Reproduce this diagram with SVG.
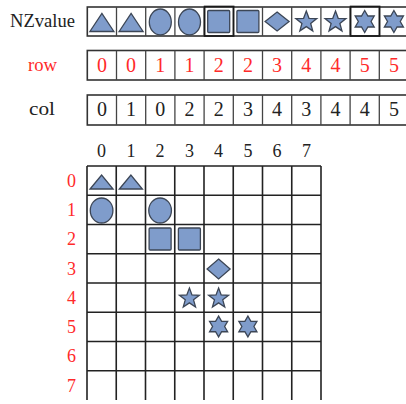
<svg xmlns="http://www.w3.org/2000/svg" xmlns:xlink="http://www.w3.org/1999/xlink" width="406" height="404" viewBox="0 0 406 404">
<style>
.bg{fill:#fff}
.shp{fill:#7f9ccb;stroke:#3c4656;stroke-width:1.3;vector-effect:non-scaling-stroke}
.box{fill:#fff;stroke:#333;stroke-width:1.6}
.cl{stroke:#444;stroke-width:1.3}
.thick{fill:none;stroke:#1a1a1a;stroke-width:1.7}
.grid{stroke:#222;stroke-width:1.6;fill:none}
.lbl{font-family:"Liberation Serif","DejaVu Serif",serif;font-size:18px;fill:#222}
.n{font-family:"Liberation Serif","DejaVu Serif",serif;font-size:20px;text-anchor:middle;fill:#222}
.h{font-family:"Liberation Serif","DejaVu Serif",serif;font-size:18px;text-anchor:middle;fill:#222}
.red{fill:#ff2a2a}
</style>
<defs>
<polygon id="tri" class="shp" points="-12,9 0,-9 12,9"/>
<ellipse id="ell" class="shp" rx="11" ry="13"/>
<rect id="sq" class="shp" x="-11" y="-11" width="22" height="22" rx="1"/>
<polygon id="dia" class="shp" points="0,-9.5 12,0 0,9.5 -12,0"/>
<polygon id="st5" class="shp" points="0,-11 2.7,-3.72 10.46,-3.4 4.37,1.42 6.47,8.9 0,4.6 -6.47,8.9 -4.37,1.42 -10.46,-3.4 -2.7,-3.72"/>
<polygon id="st6" class="shp" points="0,-11 3.18,-5.5 9.53,-5.5 6.35,0 9.53,5.5 3.18,5.5 0,11 -3.18,5.5 -9.53,5.5 -6.35,0 -9.53,-5.5 -3.18,-5.5"/>
</defs>
<rect class="bg" width="406" height="404"/>

<g id="nzvalue">
<text class="lbl" x="10" y="27" textLength="65" lengthAdjust="spacingAndGlyphs">NZvalue</text>
<rect class="box" x="87.3" y="7" width="321.2" height="29"/>
<g class="cl">
<line x1="116.5" y1="7" x2="116.5" y2="36"/><line x1="145.7" y1="7" x2="145.7" y2="36"/><line x1="174.9" y1="7" x2="174.9" y2="36"/><line x1="204.1" y1="7" x2="204.1" y2="36"/><line x1="233.3" y1="7" x2="233.3" y2="36"/><line x1="262.5" y1="7" x2="262.5" y2="36"/><line x1="291.7" y1="7" x2="291.7" y2="36"/><line x1="320.9" y1="7" x2="320.9" y2="36"/><line x1="350.1" y1="7" x2="350.1" y2="36"/><line x1="379.3" y1="7" x2="379.3" y2="36"/>
</g>
<rect class="thick" x="204.6" y="6.5" width="29" height="29.5"/>
<rect class="thick" x="350.6" y="6.5" width="29" height="29.5"/>
<use xlink:href="#tri" transform="translate(101.9,22.5)"/>
<use xlink:href="#tri" transform="translate(131.1,22.5)"/>
<use xlink:href="#ell" transform="translate(160.3,22)"/>
<use xlink:href="#ell" transform="translate(189.5,22)"/>
<use xlink:href="#sq" transform="translate(218.7,21.5)"/>
<use xlink:href="#sq" transform="translate(247.9,21.5)"/>
<use xlink:href="#dia" transform="translate(277.1,21.5)"/>
<use xlink:href="#st5" transform="translate(306.3,22)"/>
<use xlink:href="#st5" transform="translate(335.5,22)"/>
<use xlink:href="#st6" transform="translate(364.7,21.5)"/>
<use xlink:href="#st6" transform="translate(393.9,21.5)"/>
</g>

<g id="row">
<text class="lbl red" x="28" y="71" textLength="29" lengthAdjust="spacingAndGlyphs">row</text>
<rect class="box" x="87.3" y="50.5" width="321.2" height="29.5"/>
<g class="cl">
<line x1="116.5" y1="50.5" x2="116.5" y2="80"/><line x1="145.7" y1="50.5" x2="145.7" y2="80"/><line x1="174.9" y1="50.5" x2="174.9" y2="80"/><line x1="204.1" y1="50.5" x2="204.1" y2="80"/><line x1="233.3" y1="50.5" x2="233.3" y2="80"/><line x1="262.5" y1="50.5" x2="262.5" y2="80"/><line x1="291.7" y1="50.5" x2="291.7" y2="80"/><line x1="320.9" y1="50.5" x2="320.9" y2="80"/><line x1="350.1" y1="50.5" x2="350.1" y2="80"/><line x1="379.3" y1="50.5" x2="379.3" y2="80"/>
</g>
<g class="n red">
<text x="101.9" y="72">0</text><text x="131.1" y="72">0</text><text x="160.3" y="72">1</text><text x="189.5" y="72">1</text><text x="218.7" y="72">2</text><text x="247.9" y="72">2</text><text x="277.1" y="72">3</text><text x="306.3" y="72">4</text><text x="335.5" y="72">4</text><text x="364.7" y="72">5</text><text x="393.9" y="72">5</text>
</g>
</g>

<g id="col">
<text class="lbl" x="29" y="115" textLength="26" lengthAdjust="spacingAndGlyphs">col</text>
<rect class="box" x="87.3" y="95" width="321.2" height="30"/>
<g class="cl">
<line x1="116.5" y1="95" x2="116.5" y2="125"/><line x1="145.7" y1="95" x2="145.7" y2="125"/><line x1="174.9" y1="95" x2="174.9" y2="125"/><line x1="204.1" y1="95" x2="204.1" y2="125"/><line x1="233.3" y1="95" x2="233.3" y2="125"/><line x1="262.5" y1="95" x2="262.5" y2="125"/><line x1="291.7" y1="95" x2="291.7" y2="125"/><line x1="320.9" y1="95" x2="320.9" y2="125"/><line x1="350.1" y1="95" x2="350.1" y2="125"/><line x1="379.3" y1="95" x2="379.3" y2="125"/>
</g>
<g class="n">
<text x="101.9" y="116">0</text><text x="131.1" y="116">1</text><text x="160.3" y="116">0</text><text x="189.5" y="116">2</text><text x="218.7" y="116">2</text><text x="247.9" y="116">3</text><text x="277.1" y="116">4</text><text x="306.3" y="116">3</text><text x="335.5" y="116">4</text><text x="364.7" y="116">4</text><text x="393.9" y="116">5</text>
</g>
</g>

<g id="matrix">
<g class="h">
<text x="101.6" y="157">0</text><text x="130.9" y="157">1</text><text x="160.1" y="157">2</text><text x="189.4" y="157">3</text><text x="218.6" y="157">4</text><text x="247.9" y="157">5</text><text x="277.1" y="157">6</text><text x="306.4" y="157">7</text>
</g>
<g class="h red">
<text x="71.5" y="187">0</text><text x="71.5" y="216">1</text><text x="71.5" y="245">2</text><text x="71.5" y="274.5">3</text><text x="71.5" y="303.5">4</text><text x="71.5" y="333">5</text><text x="71.5" y="362">6</text><text x="71.5" y="391.5">7</text>
</g>
<path class="grid" d="M87,166H321M87,195.25H321M87,224.5H321M87,253.75H321M87,283H321M87,312.25H321M87,341.5H321M87,370.75H321
M87,166V400M116.25,166V400M145.5,166V400M174.75,166V400M204,166V400M233.25,166V400M262.5,166V400M291.75,166V400M321,166V400"/>
<use xlink:href="#tri" transform="translate(101.6,182) scale(0.96,0.78)"/>
<use xlink:href="#tri" transform="translate(130.9,182) scale(0.96,0.78)"/>
<use xlink:href="#ell" transform="translate(101.6,210.5) scale(1.03,0.96)"/>
<use xlink:href="#ell" transform="translate(160.1,210.5) scale(1.03,0.96)"/>
<use xlink:href="#sq" transform="translate(160.1,239)"/>
<use xlink:href="#sq" transform="translate(189.4,239)"/>
<use xlink:href="#dia" transform="translate(218.6,269) scale(0.96,1.05)"/>
<use xlink:href="#st5" transform="translate(189.4,298.5) scale(0.95)"/>
<use xlink:href="#st5" transform="translate(218.6,298.5) scale(0.95)"/>
<use xlink:href="#st6" transform="translate(218.6,326.5) scale(0.95)"/>
<use xlink:href="#st6" transform="translate(247.9,326.5) scale(0.95)"/>
</g>
</svg>
